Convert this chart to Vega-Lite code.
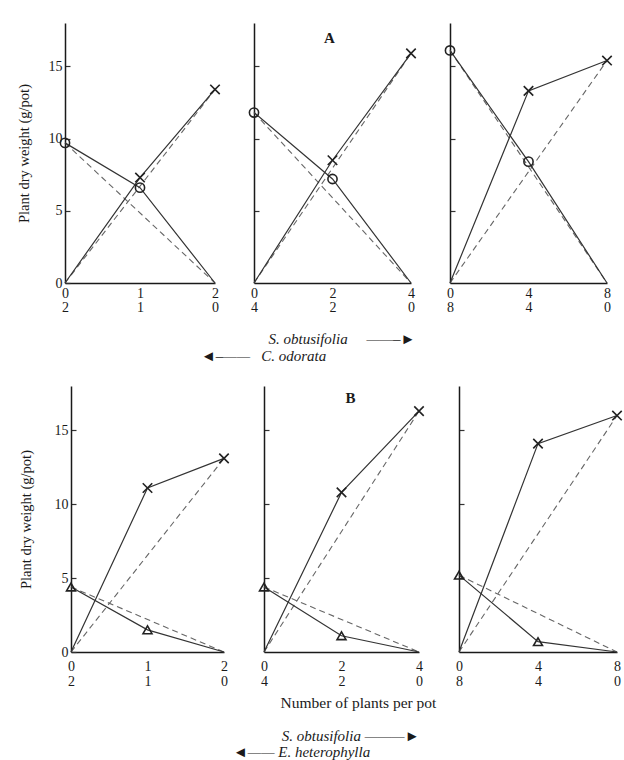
{
  "$schema": "https://vega.github.io/schema/vega-lite/v6.json",
  "background": "white",
  "padding": {"left": 16, "top": 23, "right": 0, "bottom": 0},
  "datasets": {
    "pts": [
      {"panel": "A1", "species": "S", "kind": "observed", "x": 0, "y": 0},
      {"panel": "A1", "species": "S", "kind": "observed", "x": 1, "y": 7.3},
      {"panel": "A1", "species": "S", "kind": "observed", "x": 2, "y": 13.4},
      {"panel": "A1", "species": "C", "kind": "observed", "x": 0, "y": 9.7},
      {"panel": "A1", "species": "C", "kind": "observed", "x": 1, "y": 6.6},
      {"panel": "A1", "species": "C", "kind": "observed", "x": 2, "y": 0},
      {"panel": "A1", "species": "S", "kind": "expected", "x": 0, "y": 0},
      {"panel": "A1", "species": "S", "kind": "expected", "x": 2, "y": 13.4},
      {"panel": "A1", "species": "C", "kind": "expected", "x": 0, "y": 9.7},
      {"panel": "A1", "species": "C", "kind": "expected", "x": 2, "y": 0},
      {"panel": "A2", "species": "S", "kind": "observed", "x": 0, "y": 0},
      {"panel": "A2", "species": "S", "kind": "observed", "x": 2, "y": 8.5},
      {"panel": "A2", "species": "S", "kind": "observed", "x": 4, "y": 15.9},
      {"panel": "A2", "species": "C", "kind": "observed", "x": 0, "y": 11.8},
      {"panel": "A2", "species": "C", "kind": "observed", "x": 2, "y": 7.2},
      {"panel": "A2", "species": "C", "kind": "observed", "x": 4, "y": 0},
      {"panel": "A2", "species": "S", "kind": "expected", "x": 0, "y": 0},
      {"panel": "A2", "species": "S", "kind": "expected", "x": 4, "y": 15.9},
      {"panel": "A2", "species": "C", "kind": "expected", "x": 0, "y": 11.8},
      {"panel": "A2", "species": "C", "kind": "expected", "x": 4, "y": 0},
      {"panel": "A3", "species": "S", "kind": "observed", "x": 0, "y": 0},
      {"panel": "A3", "species": "S", "kind": "observed", "x": 4, "y": 13.3},
      {"panel": "A3", "species": "S", "kind": "observed", "x": 8, "y": 15.4},
      {"panel": "A3", "species": "C", "kind": "observed", "x": 0, "y": 16.1},
      {"panel": "A3", "species": "C", "kind": "observed", "x": 4, "y": 8.4},
      {"panel": "A3", "species": "C", "kind": "observed", "x": 8, "y": 0},
      {"panel": "A3", "species": "S", "kind": "expected", "x": 0, "y": 0},
      {"panel": "A3", "species": "S", "kind": "expected", "x": 8, "y": 15.4},
      {"panel": "A3", "species": "C", "kind": "expected", "x": 0, "y": 16.1},
      {"panel": "A3", "species": "C", "kind": "expected", "x": 8, "y": 0},
      {"panel": "B1", "species": "S", "kind": "observed", "x": 0, "y": 0},
      {"panel": "B1", "species": "S", "kind": "observed", "x": 1, "y": 11.1},
      {"panel": "B1", "species": "S", "kind": "observed", "x": 2, "y": 13.1},
      {"panel": "B1", "species": "E", "kind": "observed", "x": 0, "y": 4.4},
      {"panel": "B1", "species": "E", "kind": "observed", "x": 1, "y": 1.5},
      {"panel": "B1", "species": "E", "kind": "observed", "x": 2, "y": 0},
      {"panel": "B1", "species": "S", "kind": "expected", "x": 0, "y": 0},
      {"panel": "B1", "species": "S", "kind": "expected", "x": 2, "y": 13.1},
      {"panel": "B1", "species": "E", "kind": "expected", "x": 0, "y": 4.4},
      {"panel": "B1", "species": "E", "kind": "expected", "x": 2, "y": 0},
      {"panel": "B2", "species": "S", "kind": "observed", "x": 0, "y": 0},
      {"panel": "B2", "species": "S", "kind": "observed", "x": 2, "y": 10.8},
      {"panel": "B2", "species": "S", "kind": "observed", "x": 4, "y": 16.3},
      {"panel": "B2", "species": "E", "kind": "observed", "x": 0, "y": 4.4},
      {"panel": "B2", "species": "E", "kind": "observed", "x": 2, "y": 1.1},
      {"panel": "B2", "species": "E", "kind": "observed", "x": 4, "y": 0},
      {"panel": "B2", "species": "S", "kind": "expected", "x": 0, "y": 0},
      {"panel": "B2", "species": "S", "kind": "expected", "x": 4, "y": 16.3},
      {"panel": "B2", "species": "E", "kind": "expected", "x": 0, "y": 4.4},
      {"panel": "B2", "species": "E", "kind": "expected", "x": 4, "y": 0},
      {"panel": "B3", "species": "S", "kind": "observed", "x": 0, "y": 0},
      {"panel": "B3", "species": "S", "kind": "observed", "x": 4, "y": 14.1},
      {"panel": "B3", "species": "S", "kind": "observed", "x": 8, "y": 16.0},
      {"panel": "B3", "species": "E", "kind": "observed", "x": 0, "y": 5.2},
      {"panel": "B3", "species": "E", "kind": "observed", "x": 4, "y": 0.7},
      {"panel": "B3", "species": "E", "kind": "observed", "x": 8, "y": 0},
      {"panel": "B3", "species": "S", "kind": "expected", "x": 0, "y": 0},
      {"panel": "B3", "species": "S", "kind": "expected", "x": 8, "y": 16.0},
      {"panel": "B3", "species": "E", "kind": "expected", "x": 0, "y": 5.2},
      {"panel": "B3", "species": "E", "kind": "expected", "x": 8, "y": 0}
    ]
  },
  "spacing": 22,
  "vconcat": [
    {
      "spacing": 39,
      "bounds": "flush",
      "title": {"text": ["\u200b\u00a0\u00a0\u00a0\u00a0\u00a0\u00a0\u00a0\u00a0\u00a0\u00a0\u00a0\u00a0\u00a0\u00a0\u00a0\u00a0\u00a0\u00a0S. obtusifolia\u00a0\u00a0\u00a0\u00a0\u00a0——–►", "◄–——\u00a0\u00a0\u00a0C. odorata"], "orient": "bottom", "anchor": "start", "align": "left", "dx": 185, "offset": 18, "fontStyle": "italic", "fontWeight": "normal", "fontSize": 15, "lineHeight": 17},
      "hconcat": [
        {
          "width": 150, "height": 260,
          "data": {"name": "pts"},
          "encoding": {
            "x": {"field": "x", "type": "quantitative", "scale": {"domain": [0, 2], "nice": false}, "axis": {"values": [0, 1, 2], "labelOverlap": false, "labelExpr": "['' + datum.value, '' + (2 - datum.value)]", "title": null}},
            "y": {"field": "y", "type": "quantitative", "scale": {"domain": [0, 18], "nice": false}, "axis": {"values": [0, 5, 10, 15], "title": "Plant dry weight (g/pot)", "titlePadding": 17, "tickSize": -5, "labelPadding": 8}}
          },
          "layer": [
            {"transform": [{"filter": "datum.panel == 'A1' && datum.kind == 'expected'"}], "mark": {"type": "line", "strokeDash": [6, 4], "color": "#666", "strokeWidth": 1.1}, "encoding": {"detail": {"field": "species"}}},
            {"transform": [{"filter": "datum.panel == 'A1' && datum.kind == 'observed'"}], "mark": {"type": "line", "color": "#333", "strokeWidth": 1.2}, "encoding": {"detail": {"field": "species"}}},
            {"transform": [{"filter": "datum.panel == 'A1' && datum.kind == 'observed' && datum.y > 0"}], "mark": {"type": "point", "filled": false, "stroke": "#222", "strokeWidth": 1.6, "opacity": 1},
             "encoding": {"shape": {"field": "species", "type": "nominal", "scale": {"domain": ["S", "C", "E"], "range": ["M-1,-1L1,1M1,-1L-1,1", "circle", "triangle-up"]}, "legend": null}, "size": {"field": "species", "type": "ordinal", "scale": {"domain": ["S", "C", "E"], "range": [90, 80, 110]}, "legend": null}}},
            {"data": {"values": [{}]}, "mark": {"type": "rule", "color": "#222", "strokeWidth": 1.5}, "encoding": {"x": {"datum": 2, "type": "quantitative"}, "y": null}}
          ]
        },
        {
          "width": 157, "height": 260,
          "title": {"text": "A", "offset": -23, "dx": -3, "fontSize": 15, "fontWeight": "bold"},
          "data": {"name": "pts"},
          "encoding": {
            "x": {"field": "x", "type": "quantitative", "scale": {"domain": [0, 4], "nice": false}, "axis": {"values": [0, 2, 4], "labelOverlap": false, "labelExpr": "['' + datum.value, '' + (4 - datum.value)]", "title": null}},
            "y": {"field": "y", "type": "quantitative", "scale": {"domain": [0, 18], "nice": false}, "axis": {"values": [5, 10, 15], "labels": false, "title": null, "tickSize": -5}}
          },
          "layer": [
            {"transform": [{"filter": "datum.panel == 'A2' && datum.kind == 'expected'"}], "mark": {"type": "line", "strokeDash": [6, 4], "color": "#666", "strokeWidth": 1.1}, "encoding": {"detail": {"field": "species"}}},
            {"transform": [{"filter": "datum.panel == 'A2' && datum.kind == 'observed'"}], "mark": {"type": "line", "color": "#333", "strokeWidth": 1.2}, "encoding": {"detail": {"field": "species"}}},
            {"transform": [{"filter": "datum.panel == 'A2' && datum.kind == 'observed' && datum.y > 0"}], "mark": {"type": "point", "filled": false, "stroke": "#222", "strokeWidth": 1.6, "opacity": 1},
             "encoding": {"shape": {"field": "species", "type": "nominal", "scale": {"domain": ["S", "C", "E"], "range": ["M-1,-1L1,1M1,-1L-1,1", "circle", "triangle-up"]}, "legend": null}, "size": {"field": "species", "type": "ordinal", "scale": {"domain": ["S", "C", "E"], "range": [90, 80, 110]}, "legend": null}}},
            {"data": {"values": [{}]}, "mark": {"type": "rule", "color": "#222", "strokeWidth": 1.5}, "encoding": {"x": {"datum": 4, "type": "quantitative"}, "y": null}}
          ]
        },
        {
          "width": 157, "height": 260,
          "data": {"name": "pts"},
          "encoding": {
            "x": {"field": "x", "type": "quantitative", "scale": {"domain": [0, 8], "nice": false}, "axis": {"values": [0, 4, 8], "labelOverlap": false, "labelExpr": "['' + datum.value, '' + (8 - datum.value)]", "title": null}},
            "y": {"field": "y", "type": "quantitative", "scale": {"domain": [0, 18], "nice": false}, "axis": {"values": [5, 10, 15], "labels": false, "title": null, "tickSize": -5}}
          },
          "layer": [
            {"transform": [{"filter": "datum.panel == 'A3' && datum.kind == 'expected'"}], "mark": {"type": "line", "strokeDash": [6, 4], "color": "#666", "strokeWidth": 1.1}, "encoding": {"detail": {"field": "species"}}},
            {"transform": [{"filter": "datum.panel == 'A3' && datum.kind == 'observed'"}], "mark": {"type": "line", "color": "#333", "strokeWidth": 1.2}, "encoding": {"detail": {"field": "species"}}},
            {"transform": [{"filter": "datum.panel == 'A3' && datum.kind == 'observed' && datum.y > 0"}], "mark": {"type": "point", "filled": false, "stroke": "#222", "strokeWidth": 1.6, "opacity": 1},
             "encoding": {"shape": {"field": "species", "type": "nominal", "scale": {"domain": ["S", "C", "E"], "range": ["M-1,-1L1,1M1,-1L-1,1", "circle", "triangle-up"]}, "legend": null}, "size": {"field": "species", "type": "ordinal", "scale": {"domain": ["S", "C", "E"], "range": [90, 80, 110]}, "legend": null}}},
            {"data": {"values": [{}]}, "mark": {"type": "rule", "color": "#222", "strokeWidth": 1.5}, "encoding": {"x": {"datum": 8, "type": "quantitative"}, "y": null}}
          ]
        }
      ]
    },
    {
      "spacing": 40,
      "bounds": "flush",
      "title": {"text": ["\u200b\u00a0\u00a0\u00a0\u00a0\u00a0\u00a0\u00a0\u00a0\u00a0\u00a0\u00a0\u00a0\u00a0S. obtusifolia ———►", "◄——\u00a0E. heterophylla"], "orient": "bottom", "anchor": "start", "align": "left", "dx": 215, "offset": 18, "fontStyle": "italic", "fontWeight": "normal", "fontSize": 15, "lineHeight": 16},
      "hconcat": [
        {
          "width": 159, "height": 266,
          "data": {"name": "pts"},
          "encoding": {
            "x": {"field": "x", "type": "quantitative", "scale": {"domain": [0, 2], "nice": false, "range": [6, 159]}, "axis": {"values": [0, 1, 2], "labelOverlap": false, "labelExpr": "['' + datum.value, '' + (2 - datum.value)]", "title": null, "labelPadding": 7, "labelLineHeight": 15}},
            "y": {"field": "y", "type": "quantitative", "scale": {"domain": [0, 18], "nice": false}, "axis": {"values": [0, 5, 10, 15], "title": "Plant dry weight (g/pot)", "titlePadding": 21, "tickSize": -5, "labelPadding": 8, "offset": -6}}
          },
          "layer": [
            {"transform": [{"filter": "datum.panel == 'B1' && datum.kind == 'expected'"}], "mark": {"type": "line", "strokeDash": [6, 4], "color": "#666", "strokeWidth": 1.1}, "encoding": {"detail": {"field": "species"}}},
            {"transform": [{"filter": "datum.panel == 'B1' && datum.kind == 'observed'"}], "mark": {"type": "line", "color": "#333", "strokeWidth": 1.2}, "encoding": {"detail": {"field": "species"}}},
            {"transform": [{"filter": "datum.panel == 'B1' && datum.kind == 'observed' && datum.y > 0"}], "mark": {"type": "point", "filled": false, "stroke": "#222", "strokeWidth": 1.6, "opacity": 1},
             "encoding": {"shape": {"field": "species", "type": "nominal", "scale": {"domain": ["S", "C", "E"], "range": ["M-1,-1L1,1M1,-1L-1,1", "circle", "triangle-up"]}, "legend": null}, "size": {"field": "species", "type": "ordinal", "scale": {"domain": ["S", "C", "E"], "range": [90, 80, 110]}, "legend": null}}},
            {"data": {"values": [{}]}, "mark": {"type": "rule", "color": "#222", "strokeWidth": 1.5}, "encoding": {"x": {"datum": 2, "type": "quantitative"}, "y": null}}
          ]
        },
        {
          "width": 155, "height": 266,
          "title": {"text": "B", "offset": -20, "dx": 9, "fontSize": 15, "fontWeight": "bold"},
          "data": {"name": "pts"},
          "encoding": {
            "x": {"field": "x", "type": "quantitative", "scale": {"domain": [0, 4], "nice": false}, "axis": {"values": [0, 2, 4], "labelOverlap": false, "labelExpr": "['' + datum.value, '' + (4 - datum.value)]", "title": "Number of plants per pot", "titleX": 94, "titlePadding": 7, "titleFontSize": 15.5, "labelPadding": 7, "labelLineHeight": 15}},
            "y": {"field": "y", "type": "quantitative", "scale": {"domain": [0, 18], "nice": false}, "axis": {"values": [5, 10, 15], "labels": false, "title": null, "tickSize": -5}}
          },
          "layer": [
            {"transform": [{"filter": "datum.panel == 'B2' && datum.kind == 'expected'"}], "mark": {"type": "line", "strokeDash": [6, 4], "color": "#666", "strokeWidth": 1.1}, "encoding": {"detail": {"field": "species"}}},
            {"transform": [{"filter": "datum.panel == 'B2' && datum.kind == 'observed'"}], "mark": {"type": "line", "color": "#333", "strokeWidth": 1.2}, "encoding": {"detail": {"field": "species"}}},
            {"transform": [{"filter": "datum.panel == 'B2' && datum.kind == 'observed' && datum.y > 0"}], "mark": {"type": "point", "filled": false, "stroke": "#222", "strokeWidth": 1.6, "opacity": 1},
             "encoding": {"shape": {"field": "species", "type": "nominal", "scale": {"domain": ["S", "C", "E"], "range": ["M-1,-1L1,1M1,-1L-1,1", "circle", "triangle-up"]}, "legend": null}, "size": {"field": "species", "type": "ordinal", "scale": {"domain": ["S", "C", "E"], "range": [90, 80, 110]}, "legend": null}}},
            {"data": {"values": [{}]}, "mark": {"type": "rule", "color": "#222", "strokeWidth": 1.5}, "encoding": {"x": {"datum": 4, "type": "quantitative"}, "y": null}}
          ]
        },
        {
          "width": 158, "height": 266,
          "data": {"name": "pts"},
          "encoding": {
            "x": {"field": "x", "type": "quantitative", "scale": {"domain": [0, 8], "nice": false}, "axis": {"values": [0, 4, 8], "labelOverlap": false, "labelExpr": "['' + datum.value, '' + (8 - datum.value)]", "title": null, "labelPadding": 7, "labelLineHeight": 15}},
            "y": {"field": "y", "type": "quantitative", "scale": {"domain": [0, 18], "nice": false}, "axis": {"values": [5, 10, 15], "labels": false, "title": null, "tickSize": -5}}
          },
          "layer": [
            {"transform": [{"filter": "datum.panel == 'B3' && datum.kind == 'expected'"}], "mark": {"type": "line", "strokeDash": [6, 4], "color": "#666", "strokeWidth": 1.1}, "encoding": {"detail": {"field": "species"}}},
            {"transform": [{"filter": "datum.panel == 'B3' && datum.kind == 'observed'"}], "mark": {"type": "line", "color": "#333", "strokeWidth": 1.2}, "encoding": {"detail": {"field": "species"}}},
            {"transform": [{"filter": "datum.panel == 'B3' && datum.kind == 'observed' && datum.y > 0"}], "mark": {"type": "point", "filled": false, "stroke": "#222", "strokeWidth": 1.6, "opacity": 1},
             "encoding": {"shape": {"field": "species", "type": "nominal", "scale": {"domain": ["S", "C", "E"], "range": ["M-1,-1L1,1M1,-1L-1,1", "circle", "triangle-up"]}, "legend": null}, "size": {"field": "species", "type": "ordinal", "scale": {"domain": ["S", "C", "E"], "range": [90, 80, 110]}, "legend": null}}},
            {"data": {"values": [{}]}, "mark": {"type": "rule", "color": "#222", "strokeWidth": 1.5}, "encoding": {"x": {"datum": 8, "type": "quantitative"}, "y": null}}
          ]
        }
      ]
    }
  ],
  "config": {
    "font": "Liberation Serif",
    "view": {"stroke": null},
    "axis": {"grid": false, "domainColor": "#1a1a1a", "domainWidth": 1.5, "tickColor": "#333", "tickWidth": 1.2, "labelColor": "#1a1a1a", "labelFontSize": 14, "labelFont": "Liberation Serif", "titleFont": "Liberation Serif", "titleFontSize": 14.5, "titleFontWeight": "normal", "titleColor": "#1a1a1a", "labelFlush": false, "labelOverlap": false},
    "axisX": {"ticks": false, "labelPadding": 3, "labelLineHeight": 14, "labelBaseline": "top"},
    "title": {"font": "Liberation Serif", "color": "#1a1a1a"}
  }
}
